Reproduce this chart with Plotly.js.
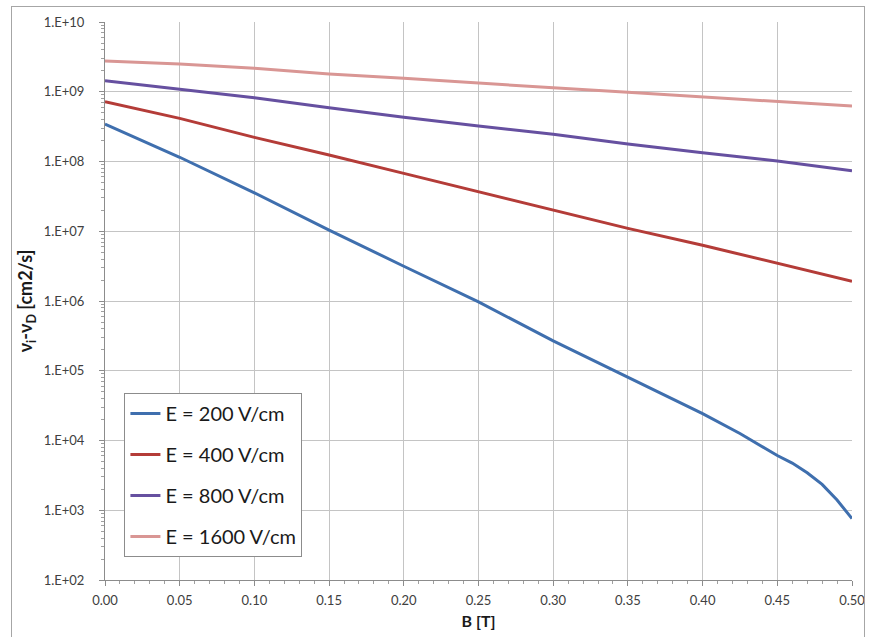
<!DOCTYPE html>
<html>
<head>
<meta charset="utf-8">
<script src="https://cdn.plot.ly/plotly-3.0.1.min.js"></script>
<style>
  html, body { margin: 0; padding: 0; background: #ffffff; }
  #chart { width: 869px; height: 637px; }
  #frame { position: absolute; left: 11px; top: 6px; width: 854px; height: 640px;
           border: 1px solid #a6a6a6; pointer-events: none; box-sizing: border-box; }
</style>
</head>
<body>
<div id="chart"></div>
<div id="frame"></div>
<script>
// ---- data ----
const seriesNames = ["E = 200 V/cm", "E = 400 V/cm", "E = 800 V/cm", "E = 1600 V/cm"];

const bE200 = [0.00, 0.05, 0.10, 0.15, 0.20, 0.25, 0.30, 0.35, 0.40, 0.425, 0.45, 0.46, 0.47, 0.48, 0.49, 0.50];
const vE200 = [3.44e8, 1.15e8, 3.56e7, 1.04e7, 3.15e6, 9.7e5, 2.68e5, 8.15e4, 2.43e4, 1.26e4, 6.1e3, 4.75e3, 3.45e3, 2.35e3, 1.4e3, 7.6e2];

const bCommon = [0.00, 0.05, 0.10, 0.15, 0.20, 0.25, 0.30, 0.35, 0.40, 0.45, 0.50];
const vE400  = [7.2e8, 4.15e8, 2.22e8, 1.24e8, 6.75e7, 3.67e7, 2.01e7, 1.10e7, 6.3e6, 3.49e6, 1.92e6];
const vE800  = [1.44e9, 1.09e9, 8.2e8, 5.9e8, 4.3e8, 3.22e8, 2.45e8, 1.78e8, 1.33e8, 1.02e8, 7.36e7];
const vE1600 = [2.75e9, 2.5e9, 2.17e9, 1.80e9, 1.56e9, 1.32e9, 1.14e9, 9.8e8, 8.5e8, 7.36e8, 6.24e8];

const xTickVals = [0, 0.05, 0.10, 0.15, 0.20, 0.25, 0.30, 0.35, 0.40, 0.45, 0.50];
const xTickText = ["0.00", "0.05", "0.10", "0.15", "0.20", "0.25", "0.30", "0.35", "0.40", "0.45", "0.50"];
const yTickVals = [1e2, 1e3, 1e4, 1e5, 1e6, 1e7, 1e8, 1e9, 1e10];
const yTickText = ["1.E+02", "1.E+03", "1.E+04", "1.E+05", "1.E+06", "1.E+07", "1.E+08", "1.E+09", "1.E+10"];

const colors = ["#3F6FAE", "#B43C38", "#6650A0", "#D99694"];

const xs = [bE200, bCommon, bCommon, bCommon];
const ys = [vE200, vE400, vE800, vE1600];

const traces = ys.map((y, i) => ({
  x: xs[i], y: y, type: "scatter", mode: "lines",
  name: seriesNames[i], legendgroup: "g" + i,
  line: { color: colors[i], width: 3 }
}));

const font = "Lato, 'Open Sans', 'Liberation Sans', sans-serif";

const layout = {
  width: 869, height: 637,
  margin: { l: 104.5, r: 17, t: 22, b: 57, pad: 0 },
  paper_bgcolor: "#ffffff", plot_bgcolor: "#ffffff",
  font: { family: font, color: "#404040" },
  showlegend: true,
  legend: {
    x: 0.026, y: 0.335, xanchor: "left", yanchor: "top",
    bgcolor: "#ffffff", bordercolor: "#8c8c8c", borderwidth: 1,
    font: { size: 20, color: "#1a1a1a", family: font },
    traceorder: "grouped", tracegroupgap: 12, itemwidth: 30
  },
  xaxis: {
    type: "linear", range: [0, 0.5],
    tickmode: "array", tickvals: xTickVals, ticktext: xTickText,
    ticks: "outside", ticklen: 5, tickcolor: "#8c8c8c",
    ticklabelstandoff: 3,
    showgrid: true, gridcolor: "#c4c4c4", gridwidth: 1,
    showline: true, linecolor: "#8c8c8c", linewidth: 1,
    zeroline: false,
    tickfont: { size: 13, color: "#404040" },
    minor: { dtick: 0.01, ticks: "outside", ticklen: 3, tickcolor: "#a0a0a0", showgrid: false },
    title: { text: "<b>B [T]</b>", font: { size: 16, color: "#1a1a1a" }, standoff: 9 }
  },
  yaxis: {
    type: "log", range: [2, 10],
    tickmode: "array", tickvals: yTickVals, ticktext: yTickText,
    ticks: "outside", ticklen: 5, tickcolor: "#8c8c8c",
    ticklabelstandoff: 12,
    showgrid: true, gridcolor: "#c4c4c4", gridwidth: 1,
    showline: true, linecolor: "#8c8c8c", linewidth: 1,
    zeroline: false,
    tickfont: { size: 13, color: "#404040" },
    minor: { dtick: "D1", ticks: "outside", ticklen: 3, tickcolor: "#a0a0a0", showgrid: false },
    title: { text: "<b>ν<sub>i</sub>-ν<sub>D</sub> [cm2/s]</b>", font: { size: 18, color: "#1a1a1a" }, standoff: 6 }
  }
};

Plotly.newPlot("chart", traces, layout, { displayModeBar: false, staticPlot: true });
</script>
</body>
</html>
